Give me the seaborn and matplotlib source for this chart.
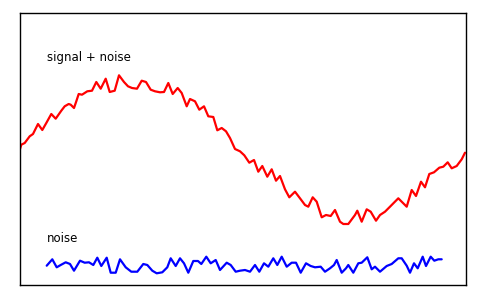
import matplotlib
matplotlib.use("Agg")
import matplotlib.pyplot as plt
import seaborn as sns
import pandas as pd

# signal + noise series (x position, value)
signal_x = [0, 1.3, 4.7, 9.7, 13, 18, 22.3, 26.3, 31.3, 35.7, 41.3, 44.7, 48.7, 50.7, 54, 56.3, 58.7, 62, 67.3, 72,
            76.3, 80.7, 85.7, 89.7, 94.7, 99, 104, 108, 112, 117, 121.7, 126, 130.7, 135, 140, 144, 148.3, 152.7,
            157.7, 161.7, 166.7, 170, 175, 179.3, 184, 188.3, 193.3, 197.3, 201.7, 206, 210, 215, 220, 224.3,
            229.3, 234, 238.3, 242.3, 247.3, 251.7, 256, 260, 265, 269.3, 275, 280, 285, 288.3, 292.7, 296.7,
            301.7, 306, 310.7, 315, 320, 323.3, 328.3, 335, 337.3, 341.7, 346.7, 350.7, 356, 360, 365, 370,
            378.3, 386.7, 391.7, 396, 401, 405, 409.3, 414, 419.3, 423.3, 427.7, 431.7, 436.7, 441.7, 445]
signal_y = [136, 140.3, 142, 148.7, 151, 161, 155, 162, 171, 166.3, 174.3, 178.7, 181, 180.3, 177, 183.7, 191, 190.3,
            193.7, 194.3, 203, 196.3, 206.3, 193, 194.3, 209.7, 203, 198.7, 197, 196.3, 204.3, 203, 195.3, 193.7,
            192.7, 193, 202, 191, 197, 192, 178.7, 186, 183.7, 175.3, 178.7, 168.7, 168, 154.7, 157, 153.7, 147,
            136, 133.7, 129.7, 122.3, 125, 113.3, 119, 108.3, 115.7, 104.3, 109, 95.7, 87.7, 93.3, 86.7, 80, 78.3,
            87.7, 83.3, 67.7, 70, 69, 75, 63.3, 61, 61, 70, 74.3, 63.3, 75.7, 73.3, 64.3, 70, 73.3, 78.3, 86.7,
            78.3, 95, 89, 103.3, 97.7, 111, 112.7, 117.3, 118.3, 122.7, 116.7, 119, 125.7, 132.3]

# noise series
noise_x = [26.7, 32.3, 36.7, 40.7, 45.7, 50, 54, 60, 64.7, 69, 73.3, 77.3, 81.3, 86.7, 90.7, 95.7, 100, 105.7, 111.3,
           117.3, 123.3, 127.3, 132.3, 136.7, 142.3, 147.3, 150.7, 155.7, 160, 164, 168.3, 173.3, 178, 181.3,
           186.3, 190.7, 195.7, 200, 206.7, 210.7, 215.7, 220, 225, 230, 235, 239.3, 244, 248.3, 253.3, 257.3,
           261.7, 266.7, 271.7, 276, 280.7, 286, 290.7, 295, 300.7, 305, 310, 314, 316.7, 321.7, 326, 328.3,
           333.3, 338.3, 341.7, 347.3, 351.7, 355, 360, 366.7, 371.7, 378.3, 381.7, 386.7, 390, 394, 397.7,
           402.7, 406, 410.7, 414.3, 418.3, 421.7]
noise_y = [19.3, 25.7, 17.7, 20, 22.7, 21, 14.3, 24.3, 22.3, 22.7, 20, 27.3, 19, 27.3, 12.3, 12.3, 25.7, 17.7, 13.3,
           13.3, 21, 20, 14.3, 11.7, 12.7, 17.7, 26.7, 19, 26.7, 21.7, 12.3, 24, 24, 21, 28.3, 21.7, 25, 15, 22.3,
           20, 13.3, 14.3, 15, 13.3, 20, 13.3, 21.7, 18.3, 26.7, 20, 28.3, 18.3, 22.3, 22.3, 12.3, 21.7, 19, 17.7,
           18.3, 13.3, 16.7, 20, 25, 12.3, 16.7, 20, 12.3, 21.7, 22.3, 27.7, 15.7, 18.3, 13.3, 19, 21, 26.7, 26.7,
           19.3, 12.3, 21.7, 16.7, 28.3, 19, 28.3, 24.3, 25.7, 25.7]

labels = ["signal + noise", "noise"]
label_pos = [(27, 227), (27, 47)]

sns.set_style("white")
fig = plt.figure(figsize=(4.8, 3.0), dpi=100)
ax = fig.add_axes([20 / 480, 15 / 300, 446 / 480, 272 / 300])

sig = pd.DataFrame({"x": signal_x, "y": signal_y})
noi = pd.DataFrame({"x": noise_x, "y": noise_y})
sns.lineplot(data=sig, x="x", y="y", ax=ax, color="#ff0000", linewidth=1.6, sort=False)
sns.lineplot(data=noi, x="x", y="y", ax=ax, color="#0000ff", linewidth=1.6, sort=False)

for txt, (tx, ty) in zip(labels, label_pos):
    ax.text(tx, ty, txt, fontsize=8.5, color="black", va="center", ha="left", family="DejaVu Sans")

ax.set_xlim(0, 446)
ax.set_ylim(0, 272)
ax.set_xticks([])
ax.set_yticks([])
ax.set_xlabel("")
ax.set_ylabel("")
for s in ax.spines.values():
    s.set_visible(True)
    s.set_color("black")
    s.set_linewidth(1.0)

fig.savefig("out.png", dpi=100)
